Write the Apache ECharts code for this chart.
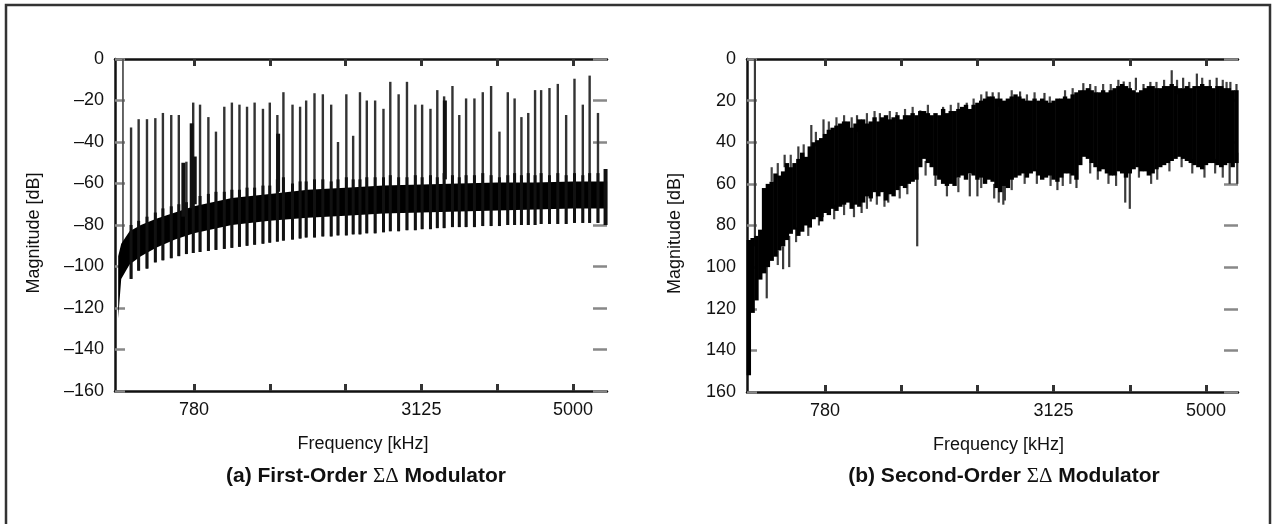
<!DOCTYPE html>
<html>
<head>
<meta charset="utf-8">
<script src="https://cdn.jsdelivr.net/npm/echarts@6/dist/echarts.min.js"></script>
<style>
html,body{margin:0;padding:0;background:#fff;}
#chart{width:1274px;height:524px;}
</style>
</head>
<body>
<div id="chart"></div>
<script>
// ---------- axis ticks (x axis measured in tick units) ----------
const xTickPos = [1, 2, 3, 4, 5, 6];
const xLabelPos = [1, 4, 6];
const xTickLabels = ['780', '3125', '5000'];

// ---------- (a) First-order modulator ----------
// noise floor band
const leftBandU     = [0.00, 0.04, 0.15, 0.30, 0.50, 0.75, 1.00, 1.50, 2.00, 2.50, 3.00, 3.50, 4.00, 4.50, 5.00, 5.50, 6.00, 6.45];
const leftBandUpper = [-95, -89, -83, -80, -77, -74, -71, -67, -65, -63, -62, -61, -60.5, -60, -59.5, -59.5, -59, -59];
const leftBandLower = [-125, -106, -99, -95, -91, -87, -84, -80, -78, -76.5, -75.5, -74.5, -74, -73.5, -73, -72.5, -72, -72];
// idle tones (spikes)
const leftSpikeU = [0.17,0.27,0.38,0.49,0.59,0.70,0.80,0.90,0.99,1.08,1.19,1.29,1.40,1.50,1.60,1.70,1.80,1.91,2.00,2.10,2.18,2.30,2.40,2.48,2.59,2.70,2.81,2.90,3.01,3.10,3.19,3.28,3.39,3.50,3.59,3.70,3.81,3.92,4.01,4.12,4.21,4.30,4.41,4.50,4.59,4.70,4.81,4.92,5.03,5.14,5.23,5.32,5.41,5.50,5.58,5.69,5.80,5.91,6.02,6.13,6.22,6.33];
const leftSpikeTop = [-33,-29,-29,-28.5,-26,-27,-27,-49.5,-21,-22,-28,-35,-23,-21,-22,-23,-21,-24,-21,-27,-16,-22,-23,-20,-16.5,-17,-22,-40,-17,-37,-16,-20,-20,-24,-11,-17,-11,-22,-22,-24,-15,-18,-13,-27,-19,-19,-16,-13,-35,-16,-19,-28,-26,-15,-15,-14,-12,-27,-9.5,-22,-8,-26];
const leftSpikeBottom = [-106,-102,-101,-98,-97,-96,-95,-94,-93.5,-93,-92.5,-92,-91.5,-91,-90.5,-90,-89.5,-89,-88.5,-88,-87.5,-87,-86.5,-86,-86,-85.5,-85.5,-85,-85,-84.5,-84.5,-84,-84,-83.5,-83,-83,-82.5,-82.5,-82,-82,-81.5,-81.5,-81,-81,-81,-81,-80.5,-80.5,-80.5,-80,-80,-80,-80,-80,-79.5,-79.5,-79.5,-79.5,-79,-79,-79,-79];
// top of the dark part of each spike, just above the floor
const leftSpikeTooth = [-80,-78,-76,-74,-72,-71,-70,-69,-67,-66,-65,-64,-64,-63,-63,-62,-62,-61,-61,-58,-57,-60,-59,-59,-58,-58,-59,-58,-57,-58,-58,-57,-57,-57,-56,-57,-57,-56,-57,-56,-57,-55,-56,-57,-56,-56,-55,-56,-57,-56,-55,-56,-55,-56,-55,-56,-55,-56,-55,-56,-55,-55];
// DC line and heavier segments
const leftDcLine = [[0.063, 0, -98]];
const leftThick = [[0.86,-50,-76],[0.97,-31,-72],[1.01,-47,-70],[2.11,-36,-64],[4.31,-20,-58],[6.43,-53,-80]];

// ---------- (b) Second-order modulator (y axis shows attenuation, 0 at top) ----------
const rightBinStep = 0.05;
const rightBinU = [0.00,0.05,0.10,0.15,0.20,0.25,0.30,0.35,0.40,0.45,0.50,0.55,0.60,0.65,0.70,0.75,0.80,0.85,0.90,0.95,1.00,1.05,1.10,1.15,1.20,1.25,1.30,1.35,1.40,1.45,1.50,1.55,1.60,1.65,1.70,1.75,1.80,1.85,1.90,1.95,2.00,2.05,2.10,2.15,2.20,2.25,2.30,2.35,2.40,2.45,2.50,2.55,2.60,2.65,2.70,2.75,2.80,2.85,2.90,2.95,3.00,3.05,3.10,3.15,3.20,3.25,3.30,3.35,3.40,3.45,3.50,3.55,3.60,3.65,3.70,3.75,3.80,3.85,3.90,3.95,4.00,4.05,4.10,4.15,4.20,4.25,4.30,4.35,4.40,4.45,4.50,4.55,4.60,4.65,4.70,4.75,4.80,4.85,4.90,4.95,5.00,5.05,5.10,5.15,5.20,5.25,5.30,5.35,5.40,5.45,5.50,5.55,5.60,5.65,5.70,5.75,5.80,5.85,5.90,5.95,6.00,6.05,6.10,6.15,6.20,6.25,6.30,6.35,6.40];
const rightTop = [87,86,85,82,62,60,59,55,56,54,50,52,50,48,45,47,42,40,39,38,36,34,33,32,31,30,30,33,31,29,29,31,30,28,30,28,27,29,28,27,29,27,27,26,27,25,25,26,27,26,27,24,26,25,25,24,23,22,24,22,21,20,19,18,18,19,19,20,19,18,17,18,19,20,20,19,20,19,20,21,20,19,19,18,19,17,16,15,15,14,15,16,16,15,16,15,14,13,12,13,14,15,16,15,14,13,13,14,14,13,13,12,13,14,14,13,14,13,13,12,13,13,14,13,13,14,14,15,15];
const rightBottom = [152,122,116,106,103,100,97,95,92,90,87,84,82,85,83,80,81,77,76,78,74,75,72,73,71,70,69,72,70,71,69,66,67,64,66,64,68,65,66,63,61,62,60,59,58,52,48,50,52,56,58,60,61,60,61,57,56,58,55,56,58,57,60,58,59,62,64,61,62,58,57,56,55,57,55,54,56,58,57,56,58,59,57,55,55,56,58,51,47,48,50,52,54,53,55,56,56,54,55,57,55,53,52,54,54,56,55,53,52,51,50,49,48,47,48,49,50,51,52,53,51,50,50,51,52,51,50,52,50];
// gray lines that stick out of the noise band: [u, from, to]
const rightSpikes = [[0.08,0,90],[0.235,95,115],[0.45,90,101],[0.53,85,100],[0.65,42,55],[0.47,46,52],[0.82,31.7,45],[0.98,29,40],[0.97,70,76],[1.42,27,35],[1.48,65,74],[1.60,62,68.5],[1.72,26,32],[1.83,62,69],[1.94,25.5,30],[2.21,55,90],[2.25,24.7,30],[2.45,48,61],[2.55,23,28],[2.86,21,26],[2.90,55,66],[3.00,56,66],[3.12,15.6,21],[3.20,16,20],[3.34,60,70],[3.36,58,68],[3.56,15.6,19],[3.88,16.3,21],[4.05,57,63],[4.30,56,62],[4.39,11.6,17],[4.48,12,17],[4.92,10.8,14],[4.94,54,69],[5.00,54,72],[5.08,9,15],[5.18,12,16],[5.27,11,15],[5.55,5.4,14],[5.70,9,14],[5.88,7,14],[6.05,10,14],[6.14,9,14],[6.31,45,60],[6.32,11,15],[6.40,12,16],[6.41,45,60]];
const rightUpTeethU   = [0.30,0.38,0.55,0.72,0.88,1.05,1.15,1.25,1.35,1.55,1.65,1.85,2.05,2.15,2.35,2.65,2.75,2.95,3.05,3.28,3.45,3.65,3.75,3.95,4.15,4.25,4.55,4.65,4.75,4.85,5.00,5.35,5.45,5.62,5.78,5.95,6.22,6.27];
const rightUpTeethTop = [52,50,46,41,35,30,28,27,28,26,25,25,24,23,22,22,21,19,17,16,15,17,16,18,15,14,13,12,12,10,11,11,10,10,11,9,10,11];
const rightDownTeethU   = [0.38,0.62,0.78,0.92,1.12,1.25,1.38,1.55,1.68,1.78,1.98,2.08,2.32,2.60,2.75,3.05,3.22,3.28,3.45,3.62,3.78,3.96,4.12,4.22,4.48,4.58,4.72,4.82,5.12,5.28,5.36,5.52,5.68,5.82,5.98,6.12,6.22];
const rightDownTeethBottom = [99,88,85,80,77,75,76,72,70,71,67,65,56,66,64,62,67,69,63,60,60,61,61,60,55,58,60,61,57,60,58,54,52,55,57,55,57];

// ---------- styling ----------
const FONT = "'Liberation Sans', Arial, Helvetica, sans-serif";
const txt = {fontFamily: FONT, fontSize: 18, color: '#111'};

function xAxes(g, min, max, namePad) {
  return [{
    gridIndex: g, type: 'value', min: min, max: max, position: 'bottom',
    axisLine: {show: true, onZero: false, lineStyle: {color: '#111', width: 2.5}},
    axisTick: {show: true, inside: true, length: 7, customValues: xTickPos, lineStyle: {color: '#333', width: 3}},
    axisLabel: {show: true, customValues: xLabelPos, margin: 10, ...txt,
      formatter: v => { const k = xLabelPos.indexOf(Math.round(v)); return k >= 0 ? xTickLabels[k] : ''; }},
    splitLine: {show: false},
    name: 'Frequency [kHz]', nameLocation: 'middle', nameGap: 44, nameTextStyle: {...txt, padding: namePad}
  }, {
    gridIndex: g, type: 'value', min: min, max: max, position: 'top',
    axisLine: {show: true, onZero: false, lineStyle: {color: '#111', width: 2.5}},
    axisTick: {show: true, inside: true, length: 7, customValues: xTickPos, lineStyle: {color: '#333', width: 3}},
    axisLabel: {show: false}, splitLine: {show: false}
  }];
}
function yAxes(g, min, max, inverse, fmt, gap) {
  return [{
    gridIndex: g, type: 'value', min: min, max: max, interval: 20, inverse: inverse, position: 'left',
    axisLine: {show: true, onZero: false, lineStyle: {color: '#111', width: 2.5}},
    axisTick: {show: true, inside: true, length: 10, lineStyle: {color: '#888', width: 2.5}},
    axisLabel: {show: true, margin: 11, formatter: fmt, ...txt},
    splitLine: {show: false},
    name: 'Magnitude [dB]', nameLocation: 'middle', nameGap: gap, nameRotate: 90,
    nameTextStyle: {...txt, padding: [0, 16, 0, 0]}
  }, {
    gridIndex: g, type: 'value', min: min, max: max, interval: 20, inverse: inverse, position: 'right',
    axisLine: {show: false, onZero: false},
    axisTick: {show: true, inside: true, length: 14, lineStyle: {color: '#888', width: 2.5}},
    axisLabel: {show: false}, splitLine: {show: false}
  }];
}

function segSeries(xi, yi, data, color, width, z) {
  return {
    type: 'custom', xAxisIndex: xi, yAxisIndex: yi, data: data, silent: true, animation: false, z: z || 2,
    renderItem: function (params, api) {
      const p1 = api.coord([api.value(0), api.value(1)]);
      const p2 = api.coord([api.value(0), api.value(2)]);
      return {type: 'line', shape: {x1: p1[0], y1: p1[1], x2: p2[0], y2: p2[1]},
        style: {stroke: color, lineWidth: width, lineCap: 'butt'}};
    }
  };
}

const leftSpikeData = leftSpikeU.map((u, i) => [u, leftSpikeTop[i], leftSpikeBottom[i]]);
const leftLowerData = leftSpikeU.map((u, i) => [u, leftSpikeTooth[i], leftSpikeBottom[i]]);
const rightUpData = rightUpTeethU.map((u, i) => [u, rightUpTeethTop[i], rightUpTeethTop[i] + 7]);
const rightDownData = rightDownTeethU.map((u, i) => [u, rightDownTeethBottom[i] - 7, rightDownTeethBottom[i]]);

const leftBandSeries = {
  type: 'custom', xAxisIndex: 0, yAxisIndex: 0, data: [[0, 0]], silent: true, animation: false, z: 3,
  renderItem: function (params, api) {
    const pts = leftBandU.map((u, i) => api.coord([u, leftBandUpper[i]]));
    for (let i = leftBandU.length - 1; i >= 0; i--) pts.push(api.coord([leftBandU[i], leftBandLower[i]]));
    return {type: 'polygon', shape: {points: pts}, style: {fill: '#000'}};
  }
};
const rightBandSeries = {
  type: 'custom', xAxisIndex: 2, yAxisIndex: 2, data: rightBinU.map((u, i) => [u, rightTop[i], rightBottom[i]]),
  silent: true, animation: false, z: 3,
  renderItem: function (params, api) {
    const t = api.coord([api.value(0), api.value(1)]);
    const b = api.coord([api.value(0), api.value(2)]);
    const w = api.size([rightBinStep, 0])[0] + 0.6;
    return {type: 'rect', shape: {x: t[0] - w / 2, y: t[1], width: w, height: b[1] - t[1]}, style: {fill: '#000'}};
  }
};

const option = {
  backgroundColor: '#fff',
  animation: false,
  grid: [
    {left: 115, top: 59, width: 492, height: 332},
    {left: 747, top: 59, width: 491, height: 333}
  ],
  xAxis: [...xAxes(0, -0.042, 6.449, [0, 0, 0, 4]), ...xAxes(1, -0.024, 6.42, [0, 0, 0, 12])],
  yAxis: [
    ...yAxes(0, -160, 0, false, v => v < 0 ? '\u2013' + (-v) : String(v), 72),
    ...yAxes(1, 0, 160, true, v => String(v), 63)
  ],
  series: [
    segSeries(0, 0, leftSpikeData, '#333', 2.4, 2),
    segSeries(0, 0, leftDcLine, '#555', 1.8, 2),
    leftBandSeries,
    segSeries(0, 0, leftLowerData, '#111', 3, 4),
    segSeries(0, 0, leftThick, '#111', 4, 4),
    segSeries(2, 2, rightSpikes, '#3a3a3a', 2.2, 2),
    segSeries(2, 2, rightUpData, '#444', 2.2, 2),
    segSeries(2, 2, rightDownData, '#444', 2.2, 2),
    rightBandSeries
  ],
  graphic: [
    {type: 'rect', silent: true, shape: {x: 6, y: 5, width: 1264, height: 560},
      style: {fill: 'none', stroke: '#333', lineWidth: 2.5}},
    {type: 'text', silent: true, x: 366, y: 476, style: {
      text: '{b|(a) First-Order }{s|\u03a3\u0394}{b| Modulator}', align: 'center', verticalAlign: 'middle',
      rich: {b: {fontFamily: FONT, fontWeight: 'bold', fontSize: 21, fill: '#111'},
             s: {fontFamily: "'Liberation Serif', 'Times New Roman', serif", fontSize: 21, fill: '#111'}}}},
    {type: 'text', silent: true, x: 1004, y: 476, style: {
      text: '{b|(b) Second-Order }{s|\u03a3\u0394}{b| Modulator}', align: 'center', verticalAlign: 'middle',
      rich: {b: {fontFamily: FONT, fontWeight: 'bold', fontSize: 21, fill: '#111'},
             s: {fontFamily: "'Liberation Serif', 'Times New Roman', serif", fontSize: 21, fill: '#111'}}}}
  ]
};

const chart = echarts.init(document.getElementById('chart'), null, {renderer: 'canvas'});
chart.setOption(option);
</script>
</body>
</html>
